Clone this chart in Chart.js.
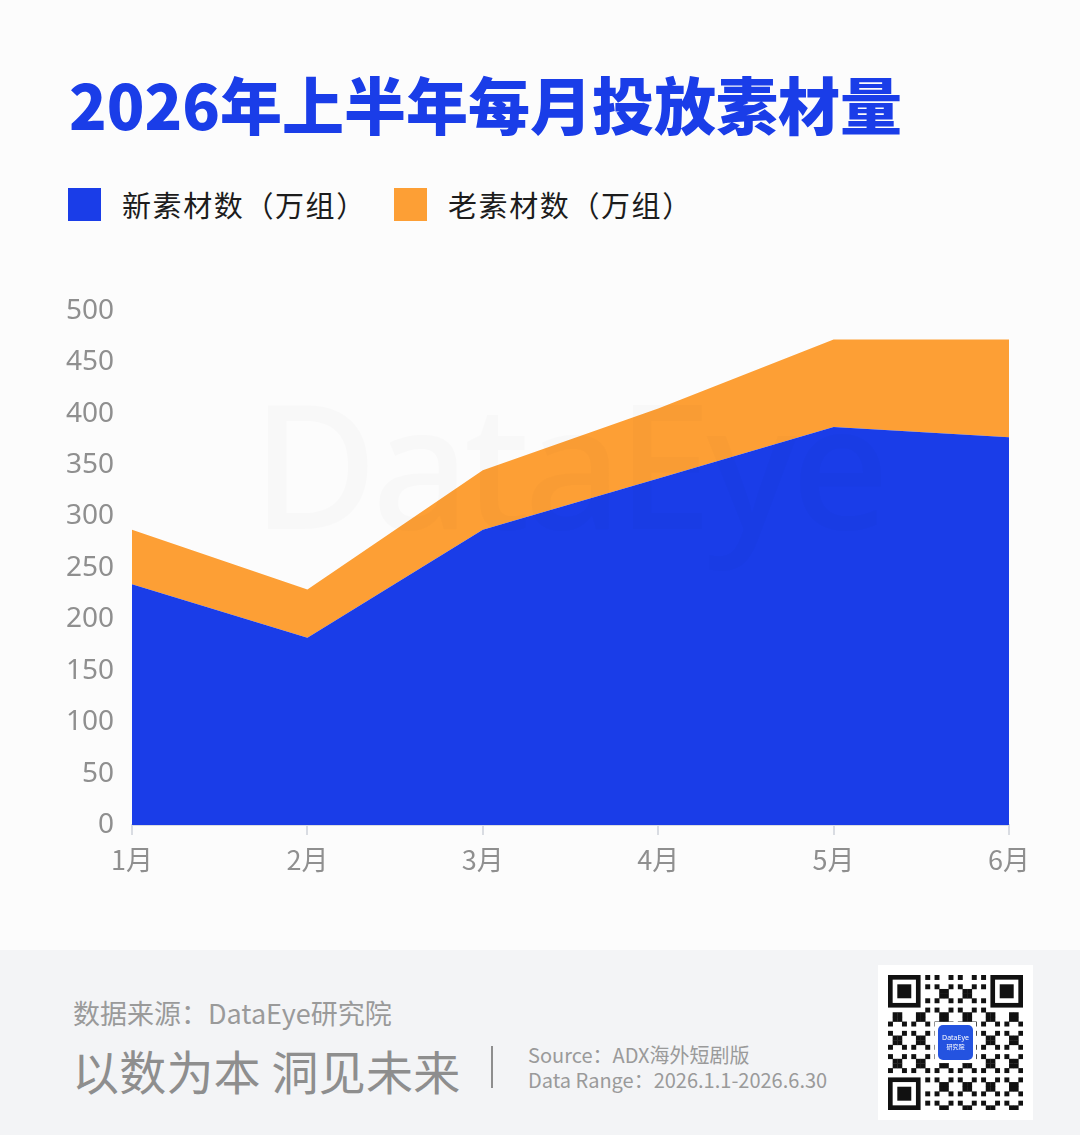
<!DOCTYPE html>
<html>
<head>
<meta charset="utf-8">
<script src="https://cdn.jsdelivr.net/npm/chart.js@4/dist/chart.umd.min.js"></script>
<style>
  html, body { margin: 0; padding: 0; }
  body { width: 1080px; height: 1135px; background: #fcfcfc; position: relative; overflow: hidden;
         font-family: "Noto Sans CJK SC", "Noto Sans", sans-serif; }
  #title { position: absolute; left: 69px; top: 58px; font-size: 62px; font-weight: 900; color: #1a3de8;
           white-space: nowrap; }
  .lg { position: absolute; top: 186px; height: 36px; display: flex; align-items: center; }
  .lg i { display: inline-block; width: 33px; height: 33px; margin-right: 21px; }
  .lg span { font-size: 29px; letter-spacing: 1.6px; color: #1c1c1c; white-space: nowrap; }
  #wrap { position: absolute; left: 40px; top: 284px; width: 1020px; height: 616px; }
  #mark { position: absolute; left: 252px; top: 345px; font-family: "Noto Sans", sans-serif; font-weight: 500;
          font-size: 172px; letter-spacing: -6px; color: rgba(0,0,0,0.014); pointer-events: none; white-space: nowrap; }
  #footer { position: absolute; left: 0; top: 950px; width: 1080px; height: 185px; background: #f3f4f6; }
  #src { position: absolute; left: 73px; top: 993px; font-size: 27px; color: #9a9a9a; white-space: nowrap; }
  #motto { position: absolute; left: 72px; top: 1035px; font-size: 47px; letter-spacing: 0.2px; color: #8e8e8e; white-space: nowrap; }
  #bar { position: absolute; left: 491px; top: 1046px; width: 2px; height: 42px; background: #8e8e8e; }
  #meta { position: absolute; left: 528px; top: 1042px; font-size: 20px; line-height: 25px; color: #9a9a9a; white-space: nowrap; }
  #qrbox { position: absolute; left: 878px; top: 965px; width: 155px; height: 155px; background: #fff; }
  #qr { position: absolute; left: 10px; top: 10px; }
</style>
</head>
<body>
<div id="title">2026年上半年每月投放素材量</div>
<div id="wrap"><canvas id="chart"></canvas></div>
<div id="mark">DataEye</div>
<div id="footer"></div>
<div id="src">数据来源：DataEye研究院</div>
<div id="motto">以数为本 洞见未来</div>
<div id="bar"></div>
<div id="meta">Source：ADX海外短剧版<br>Data Range：2026.1.1-2026.6.30</div>
<div id="qrbox"><canvas id="qr" width="135" height="135"></canvas></div>
<script>
// 数据
const months = ['1月', '2月', '3月', '4月', '5月', '6月'];
const newMaterial = [234, 182, 287, 337, 387, 377];
const oldMaterial = [53, 47, 58, 68, 85, 95];
const seriesNames = ['新素材数（万组）', '老素材数（万组）'];
const seriesColors = ['#1a3de8', '#fd9f35'];
const yMin = 0, yMax = 500, yStep = 50;

// 图例
const legendLeft = [68, 394];
seriesNames.forEach((name, i) => {
  const d = document.createElement('div');
  d.className = 'lg';
  d.style.left = legendLeft[i] + 'px';
  d.innerHTML = '<i style="background:' + seriesColors[i] + '"></i><span>' + name + '</span>';
  document.body.appendChild(d);
});

const gray = '#8f8f8f';
const axisColor = '#d9dce2';

new Chart(document.getElementById('chart'), {
  type: 'line',
  data: {
    labels: months,
    datasets: [
      { label: seriesNames[0], data: newMaterial, backgroundColor: seriesColors[0], borderWidth: 0,
        pointRadius: 0, fill: 'origin', tension: 0 },
      { label: seriesNames[1], data: oldMaterial, backgroundColor: seriesColors[1], borderWidth: 0,
        pointRadius: 0, fill: '-1', tension: 0 }
    ]
  },
  options: {
    responsive: true,
    maintainAspectRatio: false,
    animation: false,
    layout: { padding: { top: 5, right: 51, bottom: 0, left: 0 } },
    plugins: { legend: { display: false }, tooltip: { enabled: false } },
    scales: {
      x: {
        offset: false,
        grid: { display: true, drawOnChartArea: false, drawTicks: true, tickLength: 10, color: axisColor, lineWidth: 2 },
        border: { display: true, color: axisColor, width: 2 },
        ticks: { color: gray, font: { size: 27, family: '"Noto Sans CJK SC", "Noto Sans", sans-serif' }, padding: 9, maxRotation: 0 },
        afterFit: s => { s.height = 75; }
      },
      y: {
        stacked: true,
        min: yMin, max: yMax,
        grid: { display: false },
        border: { display: false },
        ticks: { stepSize: yStep, color: gray, font: { size: 28, family: '"Noto Sans", sans-serif' }, padding: 10 },
        afterFit: s => { s.width = 92; }
      }
    }
  }
});

// 二维码装饰
(function () {
  const c = document.getElementById('qr').getContext('2d');
  const n = 29, m = 135 / n;
  c.fillStyle = '#111';
  function finder(x, y) {
    c.fillRect(x * m, y * m, 7 * m, 7 * m);
    c.fillStyle = '#fff'; c.fillRect((x + 1) * m, (y + 1) * m, 5 * m, 5 * m);
    c.fillStyle = '#111'; c.fillRect((x + 2) * m, (y + 2) * m, 3 * m, 3 * m);
  }
  for (let i = 0; i < n; i++) {
    for (let j = 0; j < n; j++) {
      const inF = (i < 8 && j < 8) || (i > n - 9 && j < 8) || (i < 8 && j > n - 9);
      if (inF) continue;
      if (((i * 7 + j * 13 + i * j * 3) % 5) < 2) c.fillRect(i * m, j * m, m + 0.3, m + 0.3);
    }
  }
  finder(0, 0); finder(n - 7, 0); finder(0, n - 7);
  c.fillStyle = '#fff';
  c.fillRect(47, 47, 41, 41);
  c.fillStyle = '#2453e0';
  c.beginPath(); c.roundRect(50, 50, 35, 35, 5); c.fill();
  c.fillStyle = '#fff';
  c.font = '7px "Noto Sans"'; c.textAlign = 'center';
  c.fillText('DataEye', 67.5, 65);
  c.font = '6px "Noto Sans CJK SC"';
  c.fillText('研究院', 67.5, 74);
})();
</script>
</body>
</html>
